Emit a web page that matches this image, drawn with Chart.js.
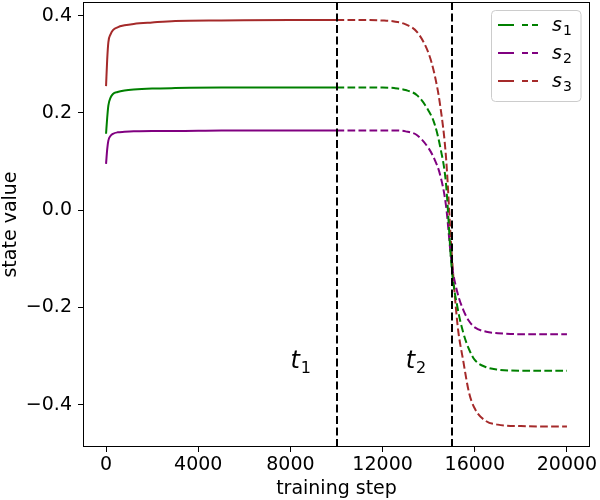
<!DOCTYPE html>
<html>
<head>
<meta charset="utf-8">
<script src="https://cdn.jsdelivr.net/npm/chart.js@4"></script>
<style>
  html, body { margin: 0; padding: 0; background: #fff; }
  #myChart { display: block; }
</style>
</head>
<body>
<canvas id="myChart" width="600" height="500"></canvas>
<script>
const steps = [0, 50, 100, 200, 300, 500, 800, 1200, 2000, 3000, 5000, 8000, 10000, 11000, 12000, 12500,
    13000, 13500, 14000, 14250, 14500, 14750, 15000, 15250, 15500, 15750, 16000, 16500, 17000, 18000, 19000, 20000];

const s1 = [0.157, 0.19, 0.215, 0.232, 0.239, 0.243, 0.246, 0.248, 0.250, 0.251, 0.252, 0.252, 0.252, 0.252, 0.252, 0.251,
    0.247, 0.236, 0.204, 0.178, 0.13, 0.055, -0.12, -0.2, -0.252, -0.286, -0.308, -0.323, -0.328, -0.330, -0.330, -0.330];
const s2 = [0.095, 0.125, 0.143, 0.153, 0.157, 0.160, 0.161, 0.162, 0.163, 0.163, 0.164, 0.164, 0.164, 0.164, 0.164, 0.164,
    0.162, 0.154, 0.127, 0.105, 0.072, 0.01, -0.11, -0.17, -0.205, -0.228, -0.241, -0.25, -0.253, -0.255, -0.255, -0.255];
const s3 = [0.255, 0.31, 0.345, 0.362, 0.37, 0.376, 0.38, 0.383, 0.386, 0.389, 0.390, 0.391, 0.391, 0.391, 0.390, 0.388,
    0.382, 0.366, 0.322, 0.28, 0.215, 0.11, -0.09, -0.235, -0.31, -0.375, -0.408, -0.434, -0.441, -0.444, -0.445, -0.445];

const seriesNames = ['s_1', 's_2', 's_3'];
const seriesColors = ['green', 'purple', 'brown'];

const phaseSteps = [10000, 15000];       // t1, t2
const phaseLabels = ['t_1', 't_2'];
const phaseLabelAt = [8000, 13000];      // where the t labels sit
const phaseLabelY = -0.325;

const xTicks = [0, 4000, 8000, 12000, 16000, 20000];
const yTicks = [-0.4, -0.2, 0.0, 0.2, 0.4];

const FONT = "'DejaVu Sans', sans-serif";

function subText(ctx, text, x, y, size, subSize, subDrop) {
    const parts = text.split('_');
    ctx.font = 'italic ' + size + 'px ' + FONT;
    ctx.textAlign = 'left';
    ctx.textBaseline = 'alphabetic';
    ctx.fillText(parts[0], x, y);
    const w = ctx.measureText(parts[0]).width;
    ctx.font = subSize + 'px ' + FONT;
    ctx.fillText(parts[1], x + w + 1, y + subDrop);
}

const extras = {
    id: 'extras',
    afterDatasetsDraw(chart) {
        const ctx = chart.ctx;
        const a = chart.chartArea;
        const xs = chart.scales.x, ys = chart.scales.y;
        ctx.save();
        // phase lines
        ctx.strokeStyle = '#000';
        ctx.lineWidth = 2;
        ctx.setLineDash([8, 3.5]);
        phaseSteps.forEach(s => {
            const px = Math.round(xs.getPixelForValue(s));
            ctx.beginPath();
            ctx.moveTo(px, a.top);
            ctx.lineTo(px, a.bottom);
            ctx.stroke();
        });
        ctx.setLineDash([]);
        // frame
        ctx.lineWidth = 1;
        ctx.strokeRect(a.left + 0.5, a.top + 0.5, a.right - a.left - 1, a.bottom - a.top - 1);
        // t labels
        ctx.fillStyle = '#000';
        phaseLabels.forEach((t, i) => {
            subText(ctx, t, xs.getPixelForValue(phaseLabelAt[i]), ys.getPixelForValue(phaseLabelY), 24, 16, 5);
        });
        // legend
        const lx = 491.5, ly = 10.5, lw = 89.5, lh = 91;
        ctx.fillStyle = 'rgba(255,255,255,0.8)';
        ctx.strokeStyle = '#cccccc';
        ctx.lineWidth = 1;
        ctx.beginPath();
        ctx.roundRect(lx, ly, lw, lh, 4);
        ctx.fill();
        ctx.stroke();
        seriesNames.forEach((n, i) => {
            const y = 25 + i * 28;
            ctx.strokeStyle = seriesColors[i];
            ctx.lineWidth = 2;
            ctx.beginPath();
            ctx.moveTo(498, y); ctx.lineTo(514, y);
            ctx.moveTo(522, y); ctx.lineTo(528, y);
            ctx.moveTo(532, y); ctx.lineTo(538, y);
            ctx.stroke();
            ctx.fillStyle = '#000';
            subText(ctx, n, 552, y + 6, 19, 14, 4);
        });
        ctx.restore();
    }
};

const ctx = document.getElementById('myChart');
const series = [s1, s2, s3];

new Chart(ctx, {
    type: 'line',
    data: {
        datasets: series.map((vals, i) => ({
            label: seriesNames[i],
            data: steps.map((s, j) => ({ x: s, y: vals[j] })),
            borderColor: seriesColors[i],
            borderWidth: 2,
            pointRadius: 0,
            cubicInterpolationMode: 'monotone',
            segment: {
                borderDash: c => c.p0.parsed.x >= phaseSteps[0] ? [7.7, 3.3] : undefined
            }
        }))
    },
    options: {
        responsive: false,
        animation: false,
        events: [],
        layout: { padding: { top: 2, right: 10, left: 0, bottom: 0 } },
        plugins: {
            legend: { display: false },
            tooltip: { enabled: false }
        },
        scales: {
            x: {
                type: 'linear',
                min: -1000,
                max: 21000,
                afterBuildTicks: s => { s.ticks = xTicks.map(v => ({ value: v })); },
                afterFit: s => { s.height = 53; s.paddingLeft = 0; s.paddingRight = 0; },
                ticks: {
                    color: '#000',
                    padding: 2,
                    maxRotation: 0,
                    font: { size: 19, family: FONT },
                    callback: v => String(v)
                },
                grid: { drawOnChartArea: false, drawTicks: true, tickLength: 5, tickColor: '#000', tickWidth: 1 },
                border: { display: false },
                title: { display: true, text: 'training step', color: '#000', font: { size: 19, family: FONT }, padding: { top: 0, bottom: 0 } }
            },
            y: {
                type: 'linear',
                min: -0.487,
                max: 0.428,
                afterBuildTicks: s => { s.ticks = yTicks.map(v => ({ value: v })); },
                afterFit: s => { s.width = 83; s.paddingTop = 0; s.paddingBottom = 0; },
                ticks: {
                    color: '#000',
                    padding: 6,
                    font: { size: 19, family: FONT },
                    callback: v => v.toFixed(1).replace('-', '\u2212')
                },
                grid: { drawOnChartArea: false, drawTicks: true, tickLength: 5, tickColor: '#000', tickWidth: 1 },
                border: { display: false },
                title: { display: true, text: 'state value', color: '#000', font: { size: 19, family: FONT }, padding: { top: 0, bottom: 0 } }
            }
        }
    },
    plugins: [extras]
});
</script>
</body>
</html>
